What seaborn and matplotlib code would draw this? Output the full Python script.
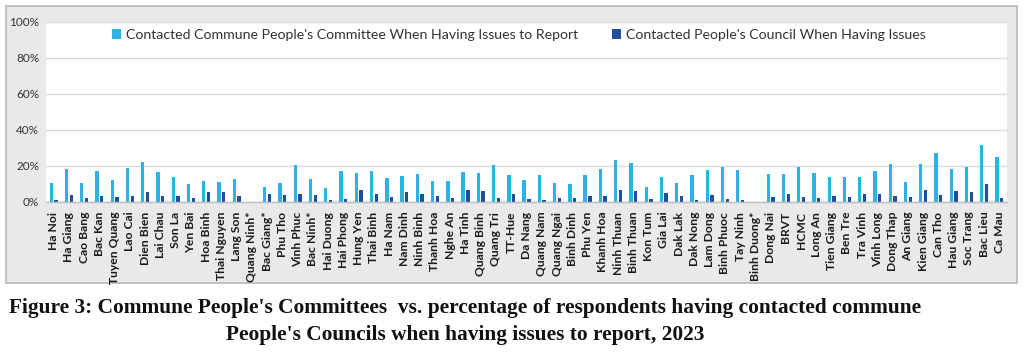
import matplotlib
matplotlib.use("Agg")
import matplotlib.pyplot as plt
from matplotlib.patches import Rectangle
from matplotlib.ticker import FuncFormatter
import seaborn as sns
import pandas as pd

provinces = ["Ha Noi", "Ha Giang", "Cao Bang", "Bac Kan", "Tuyen Quang", "Lao Cai", "Dien Bien",
             "Lai Chau", "Son La", "Yen Bai", "Hoa Binh", "Thai Nguyen", "Lang Son", "Quang Ninh*",
             "Bac Giang*", "Phu Tho", "Vinh Phuc", "Bac Ninh*", "Hai Duong", "Hai Phong", "Hung Yen",
             "Thai Binh", "Ha Nam", "Nam Dinh", "Ninh Binh", "Thanh Hoa", "Nghe An", "Ha Tinh",
             "Quang Binh", "Quang Tri", "TT-Hue", "Da Nang", "Quang Nam", "Quang Ngai", "Binh Dinh",
             "Phu Yen", "Khanh Hoa", "Ninh Thuan", "Binh Thuan", "Kon Tum", "Gia Lai", "Dak Lak",
             "Dak Nong", "Lam Dong", "Binh Phuoc", "Tay Ninh", "Binh Duong*", "Dong Nai", "BRVT",
             "HCMC", "Long An", "Tien Giang", "Ben Tre", "Tra Vinh", "Vinh Long", "Dong Thap",
             "An Giang", "Kien Giang", "Can Tho", "Hau Giang", "Soc Trang", "Bac Lieu", "Ca Mau"]

committee = [10.6, 18.2, 10.5, 17.2, 12.1, 18.9, 22.0, 16.9, 13.9, 10.1, 11.4, 11.0, 13.0, 0.0,
             8.1, 10.8, 20.4, 13.0, 7.7, 17.2, 16.0, 17.2, 13.2, 14.5, 15.6, 11.7, 11.4, 16.5,
             16.3, 20.4, 15.2, 12.3, 14.9, 10.5, 9.9, 14.9, 18.2, 23.5, 21.5, 8.1, 13.8, 10.5,
             15.2, 17.8, 19.4, 17.8, 0.0, 15.6, 15.6, 19.4, 16.3, 13.8, 13.8, 14.1, 17.1, 20.9,
             11.0, 21.1, 27.3, 18.3, 19.6, 31.7, 24.8]

council = [1.1, 3.9, 2.0, 3.3, 2.9, 3.3, 5.3, 3.3, 3.3, 2.0, 5.3, 5.7, 3.3, 0.0,
           4.6, 3.9, 4.6, 3.9, 1.1, 1.7, 6.8, 4.2, 2.9, 5.3, 4.6, 3.3, 2.2, 6.8,
           6.1, 2.2, 4.6, 1.5, 1.1, 2.0, 2.0, 3.3, 3.5, 6.8, 6.1, 1.5, 5.0, 3.3,
           0.9, 3.9, 1.7, 0.9, 0.0, 2.9, 4.2, 2.9, 2.0, 3.5, 2.9, 4.6, 4.6, 3.3,
           2.6, 6.8, 3.9, 6.1, 5.5, 9.9, 2.2]

series_names = ["Contacted Commune People's Committee When Having Issues to Report",
                "Contacted People's Council When Having Issues"]
colors = ["#2DB2E8", "#1F4E9E"]
yticks = [0, 20, 40, 60, 80, 100]
caption1 = "Figure 3: Commune People's Committees  vs. percentage of respondents having contacted commune"
caption2 = "People's Councils when having issues to report, 2023"

df = pd.DataFrame({
    "province": provinces * 2,
    "series": [series_names[0]] * len(provinces) + [series_names[1]] * len(provinces),
    "value": committee + council,
})

sns.set_theme(style="white")
plt.rcParams["font.family"] = ["Lato", "DejaVu Sans"]

W, H = 1024, 352
fig = plt.figure(figsize=(W / 100, H / 100), dpi=100)
fig.patch.set_facecolor("white")

# outer grey chart box
fig.patches.append(Rectangle((6 / W, 1 - 283 / H), (1017 - 6) / W, (283 - 6) / H,
                             transform=fig.transFigure, facecolor="#e9e9e9",
                             edgecolor="#b8b8b8", linewidth=1.2, zorder=0))

ax = fig.add_axes([46 / W, 1 - 202 / H, (1007 - 46) / W, (202 - 22) / H])
ax.set_facecolor("white")
ax.set_zorder(1)

sns.barplot(data=df, x="province", y="value", hue="series", order=provinces,
            hue_order=series_names, palette=colors, width=0.62, gap=0.3,
            linewidth=0, saturation=1, ax=ax, errorbar=None)

ax.set_xlim(-0.5, len(provinces) - 0.5)
ax.set_ylim(0, 100)
ax.set_yticks(yticks)
ax.yaxis.set_major_formatter(FuncFormatter(lambda v, p: f"{int(v)}%"))
ax.grid(axis="y", color="#dadada", linewidth=1.0)
ax.set_axisbelow(True)
for s in ["top", "right", "left"]:
    ax.spines[s].set_visible(False)
ax.spines["bottom"].set_color("#bdbdbd")
ax.spines["bottom"].set_linewidth(1.0)
ax.set_xlabel("")
ax.set_ylabel("")
ax.tick_params(axis="x", length=0, pad=7, labelsize=8.7, labelcolor="#1a1a1a", rotation=90)
for lab in ax.get_xticklabels():
    lab.set_fontweight("bold")
ax.tick_params(axis="y", length=0, pad=5, labelsize=8.5, labelcolor="#333333")

leg = ax.legend(loc="center", bbox_to_anchor=(0.492, 0.928), ncol=2, frameon=False,
                fontsize=10.2, handlelength=0.65, handleheight=0.65, handletextpad=0.35,
                columnspacing=2.4, labelcolor="#333333")

fig.text(465 / W, 1 - 313 / H, caption1, ha="center", va="baseline",
         fontfamily="Liberation Serif", fontweight="bold", fontsize=15.4, color="#111111")
fig.text(465 / W, 1 - 340 / H, caption2, ha="center", va="baseline",
         fontfamily="Liberation Serif", fontweight="bold", fontsize=15.4, color="#111111")

fig.savefig("out.png", dpi=100)
